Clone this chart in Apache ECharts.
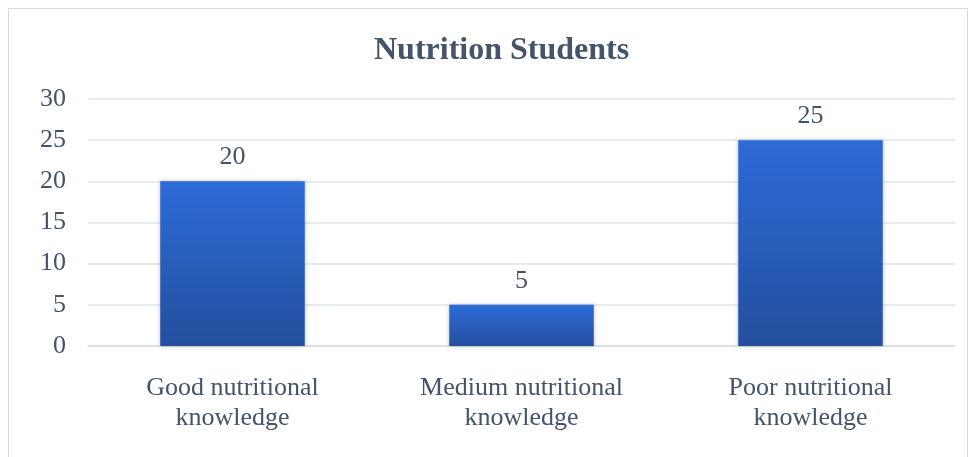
<!DOCTYPE html>
<html><head><meta charset="utf-8">
<script src="https://cdn.jsdelivr.net/npm/echarts@6/dist/echarts.min.js"></script>
<style>html,body{margin:0;padding:0;background:#fff}#c{width:971px;height:457px}</style>
</head><body><div id="c"></div>
<script>
const categories = ['Good nutritional\nknowledge', 'Medium nutritional\nknowledge', 'Poor nutritional\nknowledge'];
const values = [20, 5, 25];
const yTicks = [0, 5, 10, 15, 20, 25, 30];
const titleText = 'Nutrition Students';

const chart = echarts.init(document.getElementById('c'));
const font = '"Liberation Serif", "Times New Roman", serif';
chart.setOption({
  animation: false,
  backgroundColor: '#fff',
  graphic: [{
    type: 'rect', shape: {x: 8.5, y: 8.5, width: 959, height: 460},
    style: {fill: 'none', stroke: '#d9d9d9', lineWidth: 1}, silent: true
  }],
  title: {
    text: titleText, left: 369, top: 30,
    textStyle: {fontFamily: font, fontSize: 32, fontWeight: 'bold', color: '#44546a'}
  },
  grid: {left: 88, right: 16, top: 99, bottom: 111},
  xAxis: {
    type: 'category', data: categories,
    axisLine: {lineStyle: {color: '#d9dde3', width: 1.5}},
    axisTick: {show: false},
    axisLabel: {fontFamily: font, fontSize: 26, color: '#44546a', margin: 27, lineHeight: 30}
  },
  yAxis: {
    type: 'value', min: yTicks[0], max: yTicks[yTicks.length - 1], interval: 5,
    axisLine: {show: false}, axisTick: {show: false},
    splitLine: {lineStyle: {color: '#dfe3e8', width: 1.5}},
    axisLabel: {fontFamily: font, fontSize: 26, color: '#44546a', margin: 22}
  },
  series: [{
    type: 'bar', data: values, barWidth: '50%',
    itemStyle: {
      color: new echarts.graphic.LinearGradient(0, 0, 0, 1, [
        {offset: 0, color: '#2d6bd7'}, {offset: 1, color: '#234f9e'}
      ]),
      shadowColor: 'rgba(0,0,0,0.25)', shadowBlur: 4
    },
    label: {show: true, position: 'top', distance: 11, fontFamily: font, fontSize: 26, color: '#44546a'}
  }]
});
</script></body></html>
